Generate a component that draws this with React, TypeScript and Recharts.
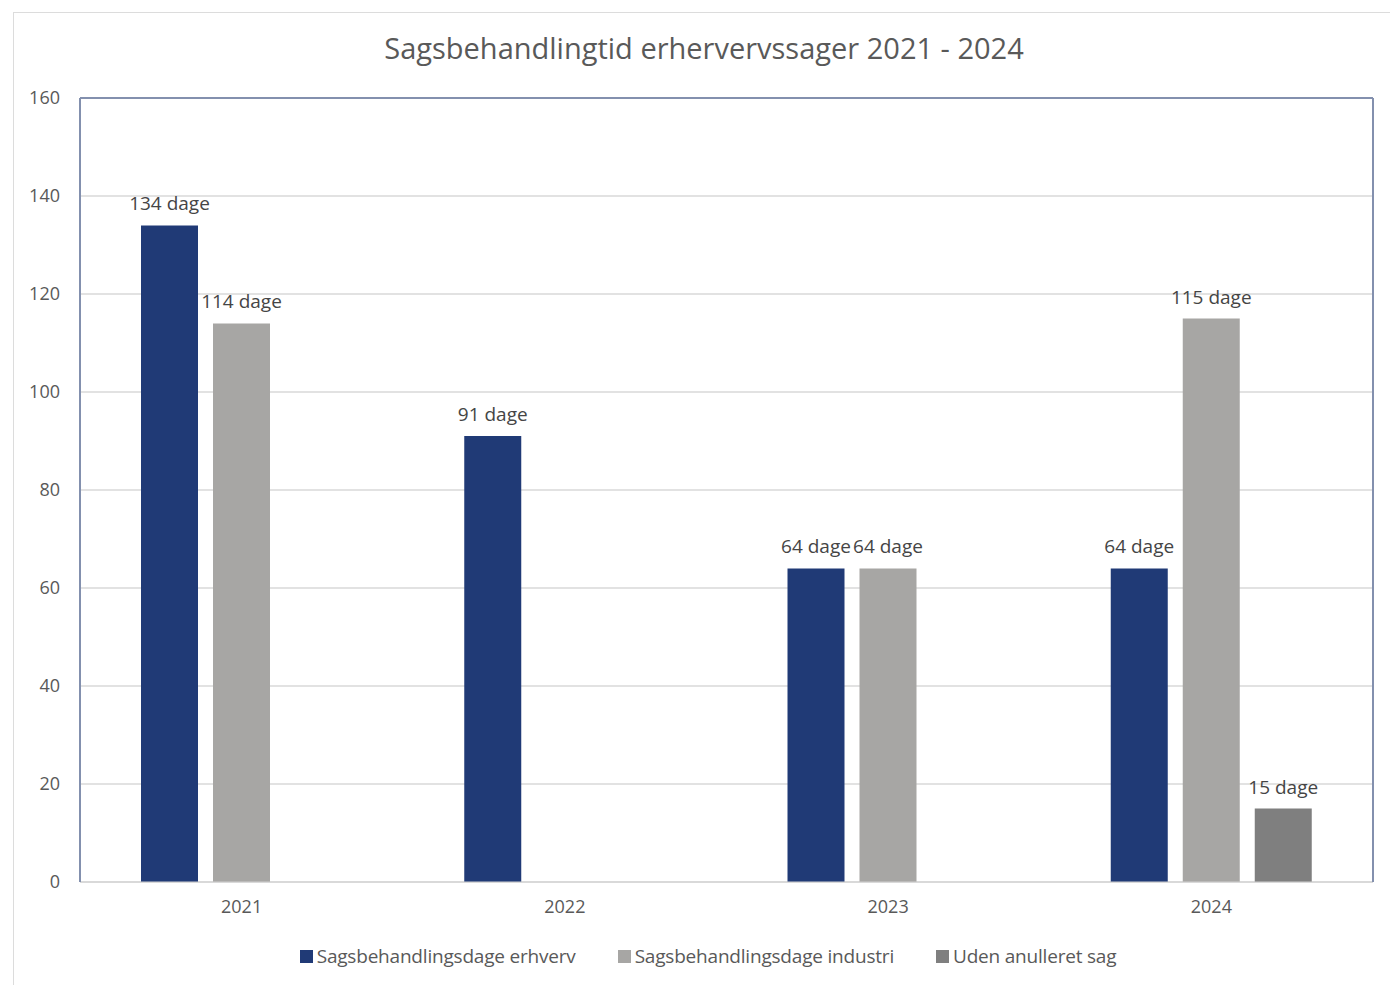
import React from "react";
import { BarChart, Bar, XAxis, YAxis, CartesianGrid, LabelList, ReferenceLine } from "recharts";

const years = ["2021", "2022", "2023", "2024"];
const erhverv: (number | null)[] = [134, 91, 64, 64];
const industri: (number | null)[] = [114, null, 64, 115];
const udenAnulleret: (number | null)[] = [null, null, null, 15];
const yTicks = [0, 20, 40, 60, 80, 100, 120, 140, 160];
const seriesNames = ["Sagsbehandlingsdage erhverv", "Sagsbehandlingsdage industri", "Uden anulleret sag"];
const seriesColors = ["#203A76", "#A7A6A4", "#7F7F7F"];
const title = "Sagsbehandlingtid erhervervssager 2021 - 2024";

const data = years.map((y, i) => ({ year: y, erhverv: erhverv[i], industri: industri[i], uden: udenAnulleret[i] }));

const FONT = "'Open Sans', sans-serif";

const renderLabel = (props: any) => {
  const { x, y, width, value } = props;
  if (value === null || value === undefined) return null;
  return (
    <text x={Number(x) + Number(width) / 2} y={Number(y) - 15} textAnchor="middle" fill="#454545"
      fontSize={19} fontFamily={FONT}>
      {`${value} dage`}
    </text>
  );
};

const LegendContent = () => (
  <div style={{ display: "flex", justifyContent: "center", gap: 42, fontFamily: FONT, fontSize: 19, color: "#595959" }}>
    {seriesNames.map((n, i) => (
      <div key={n} style={{ display: "flex", alignItems: "center" }}>
        <span style={{ display: "inline-block", width: 13, height: 13, background: seriesColors[i], marginRight: 4 }} />
        <span style={{ letterSpacing: -0.2 }}>{n}</span>
      </div>
    ))}
  </div>
);

export default function App() {
  return (
    <div style={{ position: "absolute", left: 0, top: 0, width: 1390, height: 985, background: "#fff", overflow: "hidden" }}>
      <div style={{ position: "absolute", left: 13, top: 12, width: 1400, height: 1000, border: "1px solid #dcdcdc" }} />
      <div style={{ position: "absolute", left: 0, top: 28, width: 1408, textAlign: "center", fontFamily: FONT, fontSize: 29, color: "#595959" }}>
        {title}
      </div>
      <div style={{ position: "absolute", left: 0, top: 0 }}>
        <BarChart width={1390} height={985} data={data} margin={{ top: 98, right: 13, bottom: 73, left: 20 }} barSize={57} barGap={15}>
          <CartesianGrid vertical={false} stroke="#d9d9d9" strokeWidth={1.5} />
          <XAxis dataKey="year" height={30} tickLine={false} axisLine={{ stroke: "#d0d0d0" }} tickSize={0} tickMargin={18}
            tick={{ fill: "#595959", fontSize: 18, fontFamily: FONT }} />
          <YAxis width={60} domain={[0, 160]} ticks={yTicks} interval={0} tickLine={false} tickSize={0} tickMargin={20}
            axisLine={{ stroke: "#8390ae", strokeWidth: 2 }} tick={{ fill: "#595959", fontSize: 18, fontFamily: FONT }} />
          <YAxis yAxisId="r" orientation="right" width={4} domain={[0, 160]} tick={false} tickLine={false}
            axisLine={{ stroke: "#8390ae", strokeWidth: 2 }} />
          <ReferenceLine y={160} stroke="#8390ae" strokeWidth={2} />
          <Bar dataKey="erhverv" name={seriesNames[0]} fill={seriesColors[0]} isAnimationActive={false}>
            <LabelList dataKey="erhverv" content={renderLabel} />
          </Bar>
          <Bar dataKey="industri" name={seriesNames[1]} fill={seriesColors[1]} isAnimationActive={false}>
            <LabelList dataKey="industri" content={renderLabel} />
          </Bar>
          <Bar dataKey="uden" name={seriesNames[2]} fill={seriesColors[2]} isAnimationActive={false}>
            <LabelList dataKey="uden" content={renderLabel} />
          </Bar>
        </BarChart>
      </div>
      <div style={{ position: "absolute", left: 0, top: 943, width: 1416 }}>
        <LegendContent />
      </div>
    </div>
  );
}
